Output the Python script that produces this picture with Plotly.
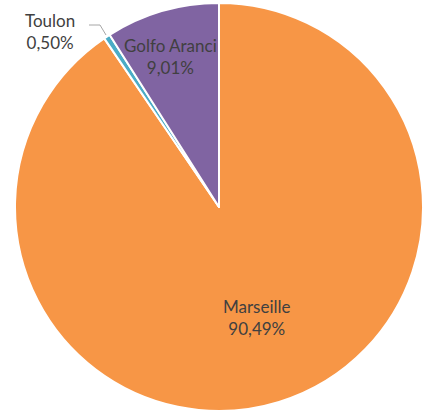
import plotly.graph_objects as go

ports = ["Marseille", "Toulon", "Golfo Aranci"]
shares = [90.49, 0.50, 9.01]
colors = ["#F79646", "#4BACC6", "#8064A2"]

W, H = 427, 414


def px(x):
    return x / W


def py(y):
    return 1 - y / H


def pct(v):
    return f"{v:.2f}%".replace(".", ",")


fig = go.Figure(
    go.Pie(
        labels=ports,
        values=shares,
        sort=False,
        direction="clockwise",
        rotation=0,
        marker=dict(colors=colors, line=dict(color="white", width=2)),
        textinfo="none",
        hoverinfo="label+percent",
        domain=dict(x=[px(15), px(423)], y=[py(411), py(3)]),
        showlegend=False,
    )
)

# label positions in pixels (centre of text block)
label_pos = {"Marseille": (257, 317), "Toulon": (50, 31), "Golfo Aranci": (170, 57)}
for name, v in zip(ports, shares):
    x, y = label_pos[name]
    fig.add_annotation(
        x=px(x), y=py(y), xref="paper", yref="paper",
        xanchor="center", yanchor="middle",
        text=f"{name}<br>{pct(v)}",
        showarrow=False,
        font=dict(family="Lato, sans-serif", size=17, color="#404040"),
    )

# leader line for Toulon
fig.add_shape(
    type="path",
    xref="paper", yref="paper",
    path=f"M {px(89)} {py(25)} L {px(100)} {py(25)} L {px(106)} {py(35)}",
    line=dict(color="#A6A6A6", width=1),
)

fig.update_layout(
    width=W,
    height=H,
    margin=dict(l=0, r=0, t=0, b=0),
    paper_bgcolor="white",
    plot_bgcolor="white",
)

fig.write_html(
    "out.html",
    config=dict(displayModeBar=False),
    post_script="document.body.style.margin='0';",
)
